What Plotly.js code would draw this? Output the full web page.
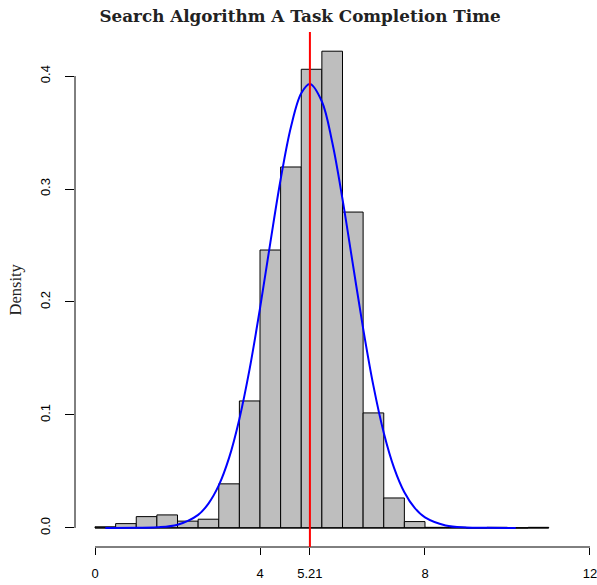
<!DOCTYPE html>
<html>
<head>
<meta charset="utf-8">
<script src="https://cdn.plot.ly/plotly-3.0.1.min.js"></script>
<style>html,body{margin:0;padding:0;background:#fff;}#chart{width:597px;height:585px;}</style>
</head>
<body>
<div id="chart"></div>
<script>
// Histogram bins (left edges) and densities
const binLeft = [0,0.5,1,1.5,2,2.5,3,3.5,4,4.5,5,5.5,6,6.5,7,7.5,8,8.5,9,9.5,10,10.5];
const binWidth = 0.5;
const density = [0.001,0.0038,0.010,0.0115,0.006,0.0077,0.039,0.1124,0.246,0.3195,0.406,0.422,0.2796,0.1018,0.0265,0.0056,0.0005,0.0005,0,0.0005,0,0.0005];

// Fitted normal curve
const curveX = [0.25,1.0,1.5,2.0,2.5,2.75,3.0,3.25,3.5,3.75,4.0,4.25,4.5,4.75,5.0,5.21,5.5,5.75,6.0,6.25,6.5,6.75,7.0,7.25,7.5,7.75,8.0,8.5,9.0,9.5,10.2];
const curveY = [0.0000,0.0001,0.0005,0.0028,0.0115,0.0215,0.0376,0.0620,0.0965,0.141,0.1944,0.2524,0.3084,0.355,0.3848,0.393,0.3775,0.3416,0.291,0.2337,0.1766,0.1257,0.0843,0.0532,0.0316,0.0177,0.0093,0.0022,0.0004,0.0001,0.0000];

const meanValue = 5.21;
const xTicks = [0,4,5.21,8,12];
const xTickText = ['0','4','5.21','8','12'];
const yTicks = [0,0.1,0.2,0.3,0.4];
const yTickText = ['0.0','0.1','0.2','0.3','0.4'];

const binCenters = binLeft.map(v => v + binWidth/2);
const binRight = binLeft[binLeft.length-1] + binWidth;

const traces = [
  {
    type: 'scatter', mode: 'lines',
    x: [binLeft[0], binRight], y: [0, 0],
    line: {color: '#000', width: 1.3}, hoverinfo: 'skip', showlegend: false
  },
  {
    type: 'bar', x: binCenters, y: density, width: binWidth,
    marker: {color: '#BEBEBE', line: {color: '#000', width: 1}},
    showlegend: false
  },
  {
    type: 'scatter', mode: 'lines', x: curveX, y: curveY,
    line: {color: '#0000FF', width: 2, shape: 'spline'}, showlegend: false
  }
];

const layout = {
  width: 597, height: 585,
  margin: {l: 75, r: 0, t: 32, b: 38},
  paper_bgcolor: '#fff', plot_bgcolor: '#fff',
  bargap: 0,
  showlegend: false,
  title: {
    text: '<b>Search Algorithm A Task Completion Time</b>',
    x: 300/597, xanchor: 'center', y: 1 - 16/585, yanchor: 'middle',
    font: {family: 'DejaVu Serif', size: 16.8, color: '#222'}
  },
  xaxis: {
    range: [-0.485, 12.17], showgrid: false, zeroline: false, showline: false,
    tickmode: 'array', tickvals: xTicks, ticktext: xTickText,
    ticks: 'outside', ticklen: 7, tickcolor: '#000', tickwidth: 1,
    ticklabeloverflow: 'allow', ticklabelstandoff: 7,
    tickfont: {family: 'Liberation Sans, Arial, sans-serif', size: 13, color: '#000'}
  },
  yaxis: {
    range: [-0.0169, 0.439], showgrid: false, zeroline: false, showline: false,
    tickmode: 'array', tickvals: yTicks, ticktext: yTickText,
    ticks: 'outside', ticklen: 9, tickcolor: '#000', tickwidth: 1, tickangle: -90,
    ticklabelstandoff: 10,
    tickfont: {family: 'Liberation Sans, Arial, sans-serif', size: 13, color: '#000'}
  },
  shapes: [
    {type: 'line', xref: 'x', yref: 'paper', x0: xTicks[0], x1: xTicks[xTicks.length-1], y0: 0, y1: 0, line: {color: '#000', width: 1}},
    {type: 'line', xref: 'paper', yref: 'y', x0: 0, x1: 0, y0: yTicks[0], y1: yTicks[yTicks.length-1], line: {color: '#000', width: 1}},
    {type: 'line', xref: 'x', yref: 'paper', x0: meanValue, x1: meanValue, y0: 0, y1: 1, line: {color: '#FF0000', width: 2}}
  ],
  annotations: [
    {text: 'Density', xref: 'paper', yref: 'paper', x: -60/522, y: 0.5, textangle: -90,
     showarrow: false, xanchor: 'center', yanchor: 'middle',
     font: {family: 'Liberation Serif, Times New Roman, serif', size: 16.5, color: '#222'}}
  ]
};

Plotly.newPlot('chart', traces, layout, {displayModeBar: false, staticPlot: true});
</script>
</body>
</html>
